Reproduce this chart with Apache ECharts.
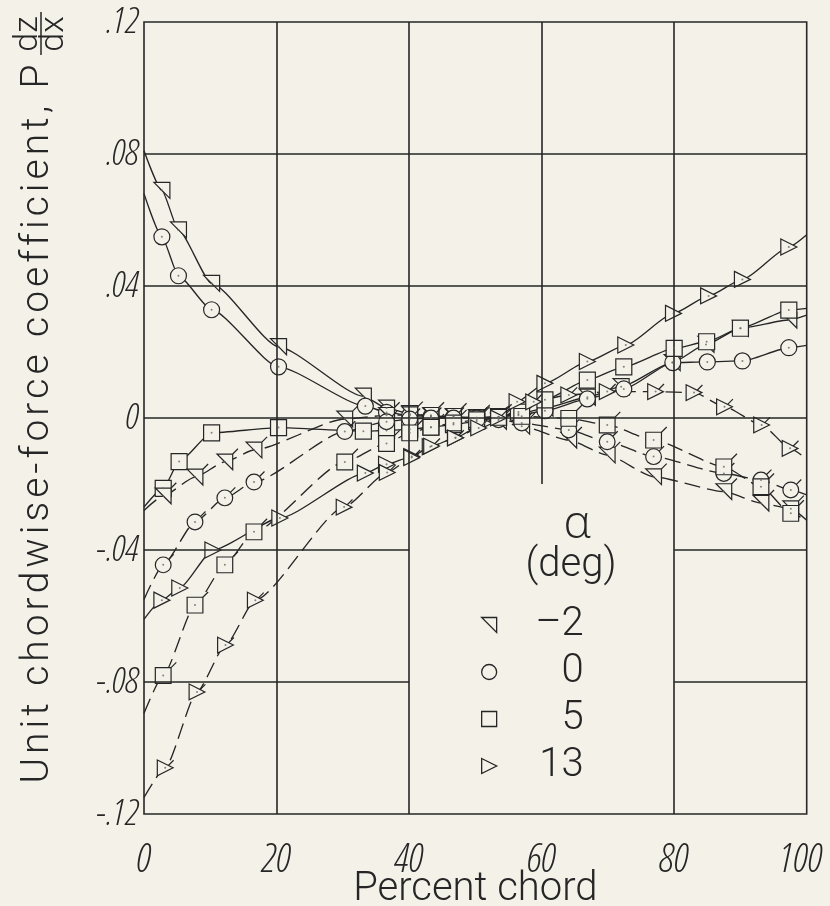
<!DOCTYPE html>
<html><head><meta charset="utf-8">
<script src="https://cdn.jsdelivr.net/npm/echarts@6/dist/echarts.min.js"></script>
<style>html,body{margin:0;padding:0;background:#f3f1e8;}#c{width:830px;height:906px;}</style>
</head><body><div id="c"></div>
<script>
// ---------------- data ----------------
const xTicks = [0, 20, 40, 60, 80, 100];
const yTicks = [-0.12, -0.08, -0.04, 0, 0.04, 0.08, 0.12];
const alphaLabels = ['-2', '0', '5', '13'];

// upper surface (solid fairing, plain symbols)
const upX_m2 = [2.7, 5.2, 10.2, 20.3, 33.1, 36.6, 40.1, 43.3, 46.7, 50.2, 53.5, 56.5, 60.5, 66.9, 72.0, 79.7, 84.8, 90.0, 97.3];
const upY_m2 = [0.069, 0.057, 0.0408, 0.0216, 0.0066, 0.0030, 0.0013, 0.0006, 0.0003, 0.0001, 0.0004, 0.0012, 0.0030, 0.0063, 0.0095, 0.0168, 0.0223, 0.0272, 0.0297];
const upEnds_m2 = [0.081, 0.0312];

const upX_0 = [2.7, 5.2, 10.2, 20.3, 33.4, 36.6, 40.1, 43.3, 46.7, 50.2, 53.5, 56.5, 60.5, 66.9, 72.4, 79.8, 85.0, 90.3, 97.3];
const upY_0 = [0.0549, 0.0431, 0.0328, 0.0155, 0.0036, 0.0017, 0.0008, 0.0004, 0.0002, 0.0001, 0.0003, 0.0008, 0.0022, 0.0058, 0.0088, 0.0168, 0.0170, 0.0173, 0.0213];
const upEnds_0 = [0.068, 0.022];

const upX_5 = [2.9, 5.3, 10.2, 20.3, 33.1, 36.6, 40.1, 43.3, 46.7, 50.2, 53.5, 56.5, 60.5, 66.9, 72.4, 80.0, 84.9, 90.0, 97.3];
const upY_5 = [-0.0213, -0.0132, -0.0045, -0.0029, -0.0040, -0.0038, -0.0034, -0.0028, -0.0020, -0.0010, 0.0003, 0.0018, 0.0055, 0.0115, 0.0155, 0.0211, 0.0231, 0.0272, 0.0327];
const upEnds_5 = [-0.027, 0.0332];

const upX_13 = [2.7, 5.4, 10.4, 20.5, 33.4, 36.6, 40.4, 43.2, 47.0, 51.3, 56.3, 60.5, 66.9, 72.7, 79.9, 85.2, 90.3, 97.3];
const upY_13 = [-0.0552, -0.0515, -0.0400, -0.0303, -0.0167, -0.0140, -0.0117, -0.0087, -0.0060, -0.0016, 0.0049, 0.0105, 0.0171, 0.0221, 0.0317, 0.0370, 0.0420, 0.0518];
const upEnds_13 = [-0.061, 0.0555];

// lower surface (dashed fairing, flagged symbols)
const loX = [2.9, 7.7, 12.2, 16.6, 30.3, 36.6, 40.1, 43.3, 46.7, 50.2, 53.5, 57.0, 64.1, 69.9, 76.9, 87.5, 93.1, 97.6];
const loY_m2 = [-0.0236, -0.0179, -0.0133, -0.0097, -0.0003, 0.0008, 0.0010, 0.0008, 0.0005, 0.0000, -0.0010, -0.0025, -0.0067, -0.0112, -0.0178, -0.0223, -0.0258, -0.0275];
const loEnds_m2 = [-0.028, -0.031];
const loY_0 = [-0.0445, -0.0315, -0.0242, -0.0194, -0.0041, -0.0011, -0.0003, 0.0000, 0.0000, 0.0000, -0.0005, -0.0015, -0.0036, -0.0072, -0.0117, -0.0168, -0.0188, -0.0218];
const loEnds_0 = [-0.055, -0.0233];
const loY_5 = [-0.0780, -0.0567, -0.0445, -0.0345, -0.0133, -0.0077, -0.0045, -0.0028, -0.0015, -0.0005, 0.0002, 0.0005, -0.0001, -0.0021, -0.0067, -0.0148, -0.0208, -0.0289];
const loEnds_5 = [-0.0895, -0.031];
const loX_13 = [3.2, 8.0, 12.3, 16.8, 30.2, 36.7, 40.4, 43.4, 47.0, 50.5, 53.5, 58.8, 64.1, 69.9, 77.2, 83.0, 87.6, 93.2, 97.5];
const loY_13 = [-0.106, -0.083, -0.0688, -0.0552, -0.0270, -0.0165, -0.0120, -0.0085, -0.0060, -0.0030, 0.0000, 0.0049, 0.0070, 0.0080, 0.0080, 0.0077, 0.0034, -0.0021, -0.0092];
const loEnds_13 = [-0.115, -0.0125];

// grid segments (interrupted around the key)
const vGrid = [[20, -0.12, 0.12], [40, -0.12, 0.12], [60, -0.02, 0.12], [80, -0.12, 0.12]];
const hGrid = [[0.08, 0, 100], [0.04, 0, 100], [0, 0, 100], [-0.04, 0, 40], [-0.04, 80, 100], [-0.08, 0, 40], [-0.08, 80, 100]];

// ---------------- styling ----------------
const BG = '#f3f1e8', INK = '#262626';
const FT = 'Roboto, "Liberation Sans", sans-serif';
const FN = '"Open Sans", Roboto, sans-serif';
const SYM = {
  triL: 'path://M0,0 L15,0 L15,15 Z',
  circ: 'circle',
  sq: 'rect',
  triR: 'path://M0,0 L15,7.5 L0,15 Z'
};
const SYMF = {
  triL: 'path://M0,5 L15,5 L15,20 Z M15,5 L20,0',
  circ: 'path://M15,12.5 C15,16.64 11.64,20 7.5,20 C3.36,20 0,16.64 0,12.5 C0,8.36 3.36,5 7.5,5 C11.64,5 15,8.36 15,12.5 Z M12.8,7.2 L17.5,2.5 M20,0',
  sq: 'path://M0,5 L15,5 L15,20 L0,20 Z M15,5 L20,0',
  triR: 'path://M0,5 L15,12.5 L0,20 Z M10.5,10.25 L15.5,5.25 M20,0'
};

const curves = [
  {name: '-2', xs: upX_m2, ys: upY_m2, ends: upEnds_m2, s: 'triL', flag: false},
  {name: '0', xs: upX_0, ys: upY_0, ends: upEnds_0, s: 'circ', flag: false},
  {name: '5', xs: upX_5, ys: upY_5, ends: upEnds_5, s: 'sq', flag: false},
  {name: '13', xs: upX_13, ys: upY_13, ends: upEnds_13, s: 'triR', flag: false},
  {name: '-2', xs: loX, ys: loY_m2, ends: loEnds_m2, s: 'triL', flag: true},
  {name: '0', xs: loX, ys: loY_0, ends: loEnds_0, s: 'circ', flag: true},
  {name: '5', xs: loX, ys: loY_5, ends: loEnds_5, s: 'sq', flag: true},
  {name: '13', xs: loX_13, ys: loY_13, ends: loEnds_13, s: 'triR', flag: true}
];

const series = [];
const gridData = [];
vGrid.forEach(g => gridData.push([{coord: [g[0], g[1]]}, {coord: [g[0], g[2]]}]));
hGrid.forEach(g => gridData.push([{coord: [g[1], g[0]]}, {coord: [g[2], g[0]]}]));
series.push({
  type: 'line', name: 'grid', data: [], z: 1, silent: true,
  markLine: {silent: true, symbol: ['none', 'none'], label: {show: false}, animation: false,
    lineStyle: {color: INK, width: 1.6, type: 'solid'}, emphasis: {disabled: true}, data: gridData}
});
const dots = [];
curves.forEach(c => {
  const pts = c.xs.map((x, i) => [x, c.ys[i]]);
  pts.forEach(p => dots.push(p));
  series.push({
    type: 'line', name: c.name, z: 3, silent: true,
    data: [[0, c.ends[0]]].concat(pts, [[100, c.ends[1]]]),
    smooth: 0.2, smoothMonotone: 'x', showSymbol: false, symbol: 'none',
    lineStyle: {color: INK, width: 1.35, type: c.flag ? [16, 7] : 'solid'},
    itemStyle: {color: BG, borderColor: INK}
  });
  series.push({
    type: 'scatter', name: c.name, z: 4, silent: true,
    data: pts,
    symbol: c.flag ? SYMF[c.s] : SYM[c.s],
    symbolSize: c.flag ? 21 : 16,
    symbolOffset: c.flag ? [2.6, -2.6] : [0, 0],
    symbolKeepAspect: true,
    itemStyle: {color: BG, borderColor: INK, borderWidth: 1.2, opacity: 1}
  });
});
series.push({type: 'scatter', name: 'dots', z: 5, silent: true, data: dots, symbol: 'circle', symbolSize: 2, itemStyle: {color: '#666'}});

const fmtY = v => {
  if (Math.abs(v) < 1e-9) return '0';
  return (v < 0 ? '-' : '') + Math.abs(v).toFixed(2).replace(/^0/, '');
};
const fmtX = v => (v === xTicks[xTicks.length - 1] ? '{m|' + v + '}' : '' + v);
const iconKeys = ['triL', 'circ', 'sq', 'triR'];
const spaced = s => s.split('').join('\u200A');

const numStyle = {fontStyle: 'italic', fontWeight: '300 condensed', fontFamily: FN, color: INK};
const chart = echarts.init(document.getElementById('c'), null, {renderer: 'canvas'});
chart.setOption({
  animation: false,
  backgroundColor: BG,
  grid: {left: 144, right: 23.3, top: 22, bottom: 92, containLabel: false, outerBoundsMode: 'none',
    show: true, borderColor: INK, borderWidth: 1.6, backgroundColor: 'transparent'},
  xAxis: {
    type: 'value', min: xTicks[0], max: xTicks[xTicks.length - 1], interval: 20,
    axisLine: {show: false}, axisTick: {show: false}, splitLine: {show: false},
    axisLabel: Object.assign({margin: 27, fontSize: 40, formatter: fmtX,
      rich: {m: Object.assign({fontSize: 40, padding: [0, 12, 0, 0]}, numStyle)}}, numStyle),
    name: 'Percent chord', nameLocation: 'middle', nameGap: 56, nameMoveOverlap: false,
    nameTextStyle: {fontSize: 40, fontWeight: 300, fontFamily: FT, color: INK}
  },
  yAxis: {
    type: 'value', min: yTicks[0], max: yTicks[yTicks.length - 1], interval: 0.04,
    axisLine: {show: false}, axisTick: {show: false}, splitLine: {show: false},
    axisLabel: Object.assign({margin: 5, fontSize: 37, formatter: fmtY, padding: [6, 0, 0, 0]}, numStyle)
  },
  legend: {
    left: 476, top: 600, orient: 'vertical', itemGap: 7, itemWidth: 15, itemHeight: 15,
    selectedMode: false,
    data: alphaLabels.map((a, i) => ({name: a, icon: SYM[iconKeys[i]]})),
    itemStyle: {color: BG, borderColor: INK, borderWidth: 1.3},
    formatter: name => '{r|' + name.replace('-', '\u2013') + '}',
    textStyle: {fontSize: 40, fontFamily: FT, fontWeight: 300, color: INK,
      rich: {r: {width: 82, align: 'right', fontSize: 40, lineHeight: 44, fontFamily: FT, fontWeight: 300, color: INK}}}
  },
  graphic: [
    {type: 'text', x: 577, y: 525, style: {text: 'α', fontSize: 46, fontFamily: '"Open Sans"', fontWeight: 300, fill: INK, align: 'center', verticalAlign: 'middle'}},
    {type: 'text', x: 571, y: 566, style: {text: '(deg)', fontSize: 40, fontFamily: FT, fontWeight: 300, fill: INK, align: 'center', verticalAlign: 'middle'}},
    {type: 'text', x: 38, y: 424, rotation: Math.PI / 2, style: {text: spaced('Unit chordwise-force coefficient, P'), fontSize: 39, fontFamily: FT, fontWeight: 300, fill: INK, align: 'center', verticalAlign: 'middle'}},
    {type: 'text', x: 28, y: 34, rotation: Math.PI / 2, style: {text: 'dz', fontSize: 34, fontFamily: FT, fontWeight: 300, fill: INK, align: 'center', verticalAlign: 'middle'}},
    {type: 'text', x: 54, y: 34, rotation: Math.PI / 2, style: {text: 'dx', fontSize: 34, fontFamily: FT, fontWeight: 300, fill: INK, align: 'center', verticalAlign: 'middle'}},
    {type: 'line', shape: {x1: 41, y1: 12, x2: 41, y2: 55}, style: {stroke: INK, lineWidth: 1.5}}
  ],
  series: series
});
</script></body></html>
